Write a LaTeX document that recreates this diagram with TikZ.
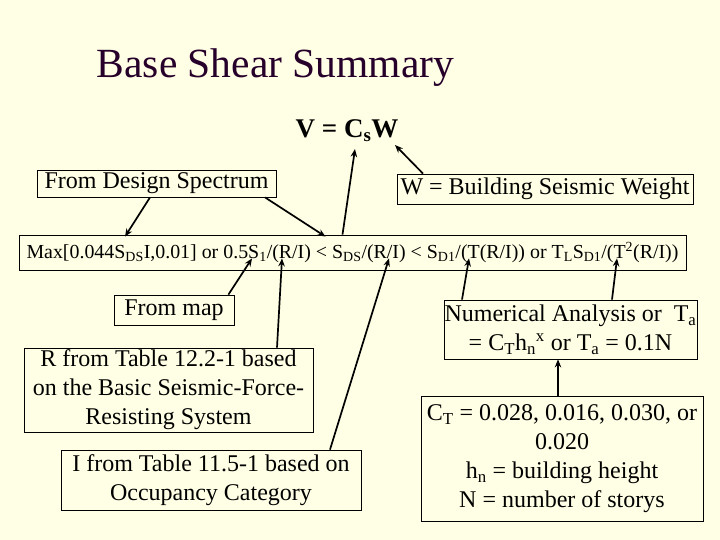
\documentclass[tikz,border=0pt]{standalone}
\usepackage{fontspec}
\usetikzlibrary{arrows.meta}
\setmainfont{Liberation Serif}
\definecolor{slidebg}{RGB}{255,255,229}
\definecolor{titlecol}{RGB}{38,0,42}
\begin{document}
\begin{tikzpicture}[x=1pt,y=-1pt,>={Stealth[length=8pt,width=6.5pt]}]
    \tikzset{box/.style={draw, line width=0.8pt, inner sep=0pt, align=center, font=\fontsize{24}{29}\selectfont},
             link/.style={->, line width=1.7pt}}
    \fill[slidebg] (0,0) rectangle (720,540);
    \node[titlecol, anchor=base, font=\fontsize{41.5}{48}\selectfont] (title) at (275.5,78) {Base Shear Summary};
    \node[anchor=base, inner sep=0pt, font=\fontsize{27}{32}\selectfont\bfseries] (vcw) at (347,138) {V = C\textsubscript{s}W};
    \node[box, minimum width=239pt, minimum height=27pt] (dspec) at (156.5,183.5) {From Design Spectrum};
    \node[box, minimum width=296pt, minimum height=30pt] (weight) at (545,189) {W = Building Seismic Weight};
    \node[box, minimum width=667pt, minimum height=35pt, font=\fontsize{19.9}{24}\selectfont] (eq) at (352.5,252.5)
        {Max[0.044S\textsubscript{DS}I,0.01] or 0.5S\textsubscript{1}/(R/I) < S\textsubscript{DS}/(R/I) < S\textsubscript{D1}/(T(R/I)) or T\textsubscript{L}S\textsubscript{D1}/(T\textsuperscript{2}(R/I))};
    \node[box, minimum width=120pt, minimum height=30pt] (map) at (174,310) {From map};
    \node[box, minimum width=289pt, minimum height=84pt] (rtab) at (168.5,390) {R from Table 12.2-1 based\\on the Basic Seismic-Force-\\Resisting System};
    \node[box, minimum width=300pt, minimum height=60pt] (itab) at (211,480) {I from Table 11.5-1 based on\\Occupancy Category};
    \node[box, minimum width=253pt, minimum height=59pt] (numer) at (570.5,329.5) {Numerical Analysis or\ \ T\textsubscript{a}\\= C\textsubscript{T}h\textsubscript{n}\textsuperscript{x} or T\textsubscript{a} = 0.1N};
    \node[box, minimum width=282pt, minimum height=125pt] (ctbox) at (562,458.5) {C\textsubscript{T} = 0.028, 0.016, 0.030, or\\0.020\\h\textsubscript{n} = building height\\N = number of storys};
    % arrows into V = CsW
    \draw[link] ([xshift=-10pt]eq.north) -- ([xshift=8pt,yshift=-11pt]vcw.base);
    \draw[link] ([xshift=-122pt]weight.north) -- ([xshift=48pt,yshift=-7pt]vcw.base);
    % arrows into the formula
    \draw[link] ([xshift=-6.5pt]dspec.south) -- ([xshift=-227.5pt,yshift=-2pt]eq.north);
    \draw[link] ([xshift=108.5pt]dspec.south) -- ([xshift=-27pt,yshift=-2pt]eq.north);
    \draw[link] ([xshift=-6pt]map.north east) -- ([xshift=-100.5pt,yshift=12pt]eq.south);
    \draw[link] ([xshift=108.5pt]rtab.north) -- ([xshift=-70.5pt,yshift=12pt]eq.south);
    \draw[link] ([xshift=119pt]itab.north) -- ([xshift=36.5pt,yshift=12pt]eq.south);
    \draw[link] ([xshift=-108.5pt]numer.north) -- ([xshift=116.5pt,yshift=12pt]eq.south);
    \draw[link] ([xshift=41.5pt]numer.north) -- ([xshift=264.5pt,yshift=12pt]eq.south);
    \draw[link] ([xshift=-4pt]ctbox.north) -- ([xshift=-12.5pt]numer.south);
\end{tikzpicture}
\end{document}
